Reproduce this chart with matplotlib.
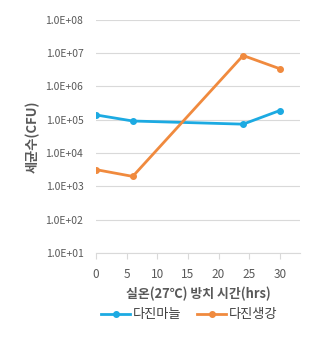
import matplotlib
matplotlib.use("Agg")
import matplotlib.pyplot as plt
from matplotlib.ticker import FixedLocator, FixedFormatter

plt.rcParams['font.family'] = ['Noto Sans CJK KR', 'DejaVu Sans']

hours = [0, 6, 24, 30]
garlic = [1.4e5, 9.2e4, 7.4e4, 1.9e5]
ginger = [3.2e3, 2.0e3, 8.5e6, 3.4e6]
ytick_vals = [1e1, 1e2, 1e3, 1e4, 1e5, 1e6, 1e7, 1e8]
ytick_labels = ["1.0E+01", "1.0E+02", "1.0E+03", "1.0E+04",
                "1.0E+05", "1.0E+06", "1.0E+07", "1.0E+08"]
xtick_vals = [0, 5, 10, 15, 20, 25, 30]

blue = "#1CAAE2"
orange = "#F08A3E"
gray = "#595959"

fig = plt.figure(figsize=(3.32, 3.42), dpi=100)
ax = fig.add_axes([0.289, 0.260, 0.615, 0.682])

ax.plot(hours, garlic, color=blue, lw=2, marker="o", ms=4, label="다진마늘")
ax.plot(hours, ginger, color=orange, lw=2, marker="o", ms=4, label="다진생강")

ax.set_yscale("log")
ax.set_ylim(1e1, 1e8)
ax.set_xlim(0, 33.3)
ax.yaxis.set_major_locator(FixedLocator(ytick_vals))
ax.yaxis.set_major_formatter(FixedFormatter(ytick_labels))
ax.yaxis.set_minor_locator(FixedLocator([]))
ax.set_xticks(xtick_vals)

ax.grid(axis="y", color="#D9D9D9", lw=0.8)
ax.set_axisbelow(True)
for s in ["left", "right", "top"]:
    ax.spines[s].set_visible(False)
ax.spines["bottom"].set_color("#D9D9D9")
ax.tick_params(axis="y", length=0, labelsize=7.5, labelcolor=gray, pad=9)
ax.tick_params(axis="x", length=4, color="#D9D9D9", labelsize=8.5, labelcolor=gray, pad=7)

ax.set_ylabel("세균수(CFU)", fontsize=9.5, color=gray, fontweight="bold", labelpad=4)
ax.set_xlabel("실온(27℃) 방치 시간(hrs)", fontsize=9.3, color=gray, fontweight="bold", labelpad=4)

fig.legend(loc="center", bbox_to_anchor=(0.57, 0.08), ncol=2, frameon=False,
           fontsize=9.5, handlelength=2.2, columnspacing=1.2, handletextpad=0.2,
           labelcolor="#404040")

fig.savefig("out.png", dpi=100)
